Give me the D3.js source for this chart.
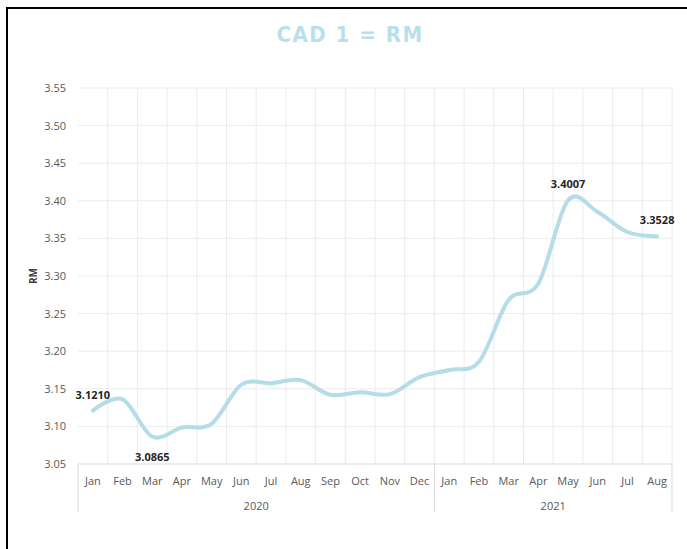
<!DOCTYPE html>
<html>
<head>
<meta charset="utf-8">
<script src="https://cdn.jsdelivr.net/npm/d3@7"></script>
<style>
  body { margin: 0; background: #fff; }
  svg { display: block; }
</style>
</head>
<body>
<div id="chart"></div>
<script>
// monthly rates, CAD 1 = RM
const months = ["Jan","Feb","Mar","Apr","May","Jun","Jul","Aug","Sep","Oct","Nov","Dec",
                "Jan","Feb","Mar","Apr","May","Jun","Jul","Aug"]
const years = [{label: "2020", from: 0, to: 12}, {label: "2021", from: 12, to: 20}]
const rates = [3.1210, 3.1360, 3.0865, 3.0985, 3.1035, 3.1555, 3.1575, 3.1615, 3.1420, 3.1455,
               3.1430, 3.1655, 3.1750, 3.1860, 3.2680, 3.2900, 3.4007, 3.3850, 3.3585, 3.3528]
const yTicks = [3.05, 3.10, 3.15, 3.20, 3.25, 3.30, 3.35, 3.40, 3.45, 3.50, 3.55]
// which points get a label and where
const labelled = [{i: 0, pos: "above"}, {i: 2, pos: "below"}, {i: 16, pos: "above"}, {i: 19, pos: "above"}]

const W = 687, H = 549
const margin = {top: 88, left: 78, right: 15, bottom: 85}
const width = W - margin.left - margin.right
const height = H - margin.top - margin.bottom

const svg = d3.select("#chart").append("svg").attr("width", W).attr("height", H)
  .style("font-family", "'Open Sans', sans-serif")

// outer frame
svg.append("rect")
  .attr("x", 7).attr("y", 8).attr("width", W).attr("height", H)
  .attr("fill", "none").attr("stroke", "#000").attr("stroke-width", 2)

svg.append("text")
  .attr("x", 350).attr("y", 42)
  .attr("text-anchor", "middle")
  .attr("fill", "#b9e0ea")
  .style("font-family", "'DejaVu Sans Condensed', 'DejaVu Sans', sans-serif")
  .style("font-weight", "bold")
  .style("font-size", "22px")
  .style("letter-spacing", "1.5px")
  .text("CAD 1 = RM")

const g = svg.append("g").attr("transform", `translate(${margin.left},${margin.top})`)

const x = d3.scaleBand().domain(d3.range(months.length)).range([0, width])
const y = d3.scaleLinear().domain([3.05, 3.55]).range([height, 0])

// horizontal gridlines
g.append("g").selectAll("line").data(yTicks.slice(1)).join("line")
  .attr("x1", 0).attr("x2", width)
  .attr("y1", d => y(d)).attr("y2", d => y(d))
  .attr("stroke", "#ececec")

// vertical gridlines between categories
g.append("g").selectAll("line").data(d3.range(1, months.length + 1)).join("line")
  .attr("x1", d => x.step() * d).attr("x2", d => x.step() * d)
  .attr("y1", 0).attr("y2", height)
  .attr("stroke", "#ececec")

// y axis labels
g.append("g").selectAll("text").data(yTicks).join("text")
  .attr("x", -12).attr("y", d => y(d) + 4)
  .attr("text-anchor", "end")
  .attr("fill", "#595959")
  .style("font-size", "11px")
  .text(d => d3.format(".2f")(d))

svg.append("text")
  .attr("transform", "translate(37,276) rotate(-90)")
  .attr("text-anchor", "middle")
  .attr("fill", "#404040")
  .style("font-size", "10px")
  .style("font-weight", "bold")
  .text("RM")

// x axis: baseline, month labels, year groups
g.append("line")
  .attr("x1", 0).attr("x2", width).attr("y1", height).attr("y2", height)
  .attr("stroke", "#d9d9d9")

g.append("g").selectAll("text").data(months).join("text")
  .attr("x", (d, i) => x(i) + x.bandwidth() / 2)
  .attr("y", height + 21)
  .attr("text-anchor", "middle")
  .attr("fill", "#595959")
  .style("font-size", "11px")
  .text(d => d)

const dividers = [0].concat(years.map(d => d.to))
g.append("g").selectAll("line").data(dividers).join("line")
  .attr("x1", d => x.step() * d).attr("x2", d => x.step() * d)
  .attr("y1", height).attr("y2", height + 48)
  .attr("stroke", "#d9d9d9")

g.append("g").selectAll("text").data(years).join("text")
  .attr("x", d => x.step() * (d.from + d.to) / 2)
  .attr("y", height + 46)
  .attr("text-anchor", "middle")
  .attr("fill", "#595959")
  .style("font-size", "11px")
  .text(d => d.label)

// the smoothed line (uniform catmull-rom, close to excel's smoothing)
const line = d3.line()
  .x((d, i) => x(i) + x.bandwidth() / 2)
  .y(d => y(d))
  .curve(d3.curveCatmullRom.alpha(0))

g.append("path")
  .datum(rates)
  .attr("d", line)
  .attr("fill", "none")
  .attr("stroke", "#b4dde7")
  .attr("stroke-width", 4)
  .attr("stroke-linecap", "round")

g.append("g").selectAll("text").data(labelled).join("text")
  .attr("x", d => x(d.i) + x.bandwidth() / 2)
  .attr("y", d => d.pos == "above" ? y(rates[d.i]) - 12 : y(rates[d.i]) + 24)
  .attr("text-anchor", "middle")
  .attr("fill", "#262626")
  .style("font-size", "11px")
  .style("font-weight", "bold")
  .text(d => d3.format(".4f")(rates[d.i]))
</script>
</body>
</html>
